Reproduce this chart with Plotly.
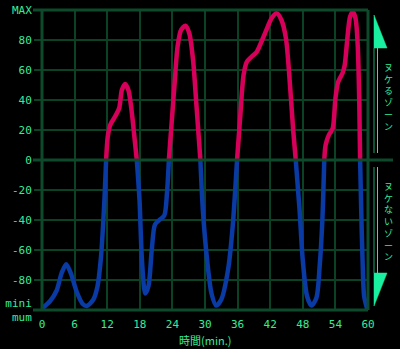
import plotly.graph_objects as go

# ---- data ----
time_min = [0, 1.5, 2.7, 3.6, 4.45, 5.3, 6.4, 7.5, 8.25, 9.45, 10.2, 10.8, 11.4, 11.8,
            12.1, 12.55, 13.45, 14.2, 14.7, 15.3, 15.9, 16.55, 17.0, 17.45,
            17.95, 18.4, 19.0, 19.6, 20.2, 20.8, 21.6, 22.5, 23.0, 23.35,
            23.9, 24.4, 24.95, 25.6, 26.4, 27.1, 27.8, 28.4, 29.15,
            29.6, 30.4, 31.2, 32.05, 33.0, 34.25, 35.1, 35.9,
            36.5, 37.1, 37.7, 38.6, 39.5, 40.4, 41.3, 42.25, 43.2, 44.1, 44.9, 45.6, 46.25, 46.7,
            47.4, 48.0, 48.8, 49.6, 50.5, 51.1, 51.6, 51.95,
            52.2, 52.8, 53.5, 54.0, 54.5, 55.3, 55.7, 56.2, 56.7, 57.2, 57.7, 58.1, 58.4, 58.55,
            58.75, 59.0, 59.3, 59.9]
level = [-99, -94, -87, -75.5, -69.5, -75.5, -88, -96, -97.3, -93, -84.5, -67, -33, 0,
         15.5, 23.3, 29, 34.5, 46.7, 50.7, 46.7, 31, 15.5, 0,
         -27, -67, -89, -84, -60, -43, -40, -37, -22, 0,
         26.7, 51, 75.5, 86.7, 89.5, 84.5, 66.7, 37.8, 0,
         -33, -67, -89, -97, -93, -73, -44, 0,
         30, 56.7, 65.5, 69, 72, 79, 86.7, 94.5, 97.8, 93, 81, 52, 19, 0,
         -33, -67, -91, -97, -92, -71, -40, 0,
         10, 16.7, 21, 41, 52, 57.8, 63, 81, 95.5, 99, 94.5, 77, 37, 0,
         -33, -67, -91, -100]

x_ticks = [0, 6, 12, 18, 24, 30, 36, 42, 48, 54, 60]
y_ticks = [-100, -80, -60, -40, -20, 0, 20, 40, 60, 80, 100]
y_ticktext = ["mini<br>mum", "-80", "-60", "-40", "-20", "0", "20", "40", "60", "80", "MAX"]
x_title = "時間(min.)"
zone_up = "ヌケるゾーン"
zone_down = "ヌケないゾーン"

# ---- styles ----
GRID = "#0b4226"
FRAME = "#0d4a2b"
TXT = "#33ee99"
ARROW = "#19f0a0"
RED = "#d6005a"
BLUE = "#0a3aa3"

pos = [v if v >= 0 else None for v in level]
neg = [v if v <= 0 else None for v in level]

fig = go.Figure()
fig.add_trace(go.Scatter(x=time_min, y=neg, mode="lines",
                         line=dict(color=BLUE, width=4.5, shape="spline", smoothing=0.8),
                         connectgaps=False, hoverinfo="skip"))
fig.add_trace(go.Scatter(x=time_min, y=pos, mode="lines",
                         line=dict(color=RED, width=4.5, shape="spline", smoothing=0.8),
                         connectgaps=False, hoverinfo="skip"))

L, R, T, B = 42, 32, 10, 39
W, H = 400, 349
PW, PH = W - L - R, H - T - B


def px(xp):
    return (xp - L) / PW


def py(yp):
    return (H - B - yp) / PH


shapes = []
# frame lines
for yy in [0, 1]:
    shapes.append(dict(type="line", xref="paper", yref="paper", x0=px(33), x1=1.0,
                       y0=yy, y1=yy, line=dict(color=FRAME, width=3)))
for xx in [0, 1]:
    shapes.append(dict(type="line", xref="paper", yref="paper", x0=xx, x1=xx,
                       y0=0, y1=1, line=dict(color=FRAME, width=3)))
# zero line, extended to the right
shapes.append(dict(type="line", xref="paper", yref="y", x0=px(33), x1=px(393),
                   y0=0, y1=0, line=dict(color=FRAME, width=3)))
# right-side zone arrows
for (a, b) in [(48, 153), (167, 273)]:
    shapes.append(dict(type="line", xref="paper", yref="paper", x0=px(374), x1=px(374),
                       y0=py(a), y1=py(b), line=dict(color="#14a868", width=1)))
    shapes.append(dict(type="line", xref="paper", yref="paper", x0=px(377.5), x1=px(377.5),
                       y0=py(a), y1=py(b), line=dict(color=ARROW, width=1)))
up_path = "M {} {} L {} {} L {} {} Z".format(px(374), py(15), px(387), py(48), px(374), py(48))
down_path = "M {} {} L {} {} L {} {} Z".format(px(374), py(273), px(387), py(273), px(374), py(306))
for p in [up_path, down_path]:
    shapes.append(dict(type="path", xref="paper", yref="paper", path=p,
                       fillcolor=ARROW, line=dict(color=ARROW, width=0.5)))

annotations = [
    dict(text=x_title, xref="paper", yref="paper", x=0.5, y=py(340), showarrow=False,
         xanchor="center", yanchor="middle",
         font=dict(family="Noto Sans CJK JP", size=11, color=TXT)),
    dict(text="<br>".join(list(zone_up)), xref="paper", yref="paper", x=px(388), y=py(97),
         showarrow=False, xanchor="center", yanchor="middle",
         font=dict(family="Noto Sans CJK JP", size=9, color=TXT)),
    dict(text="<br>".join(list(zone_down)), xref="paper", yref="paper", x=px(388), y=py(221),
         showarrow=False, xanchor="center", yanchor="middle",
         font=dict(family="Noto Sans CJK JP", size=9, color=TXT)),
]

fig.update_layout(
    width=W, height=H,
    margin=dict(l=L, r=R, t=T, b=B, pad=0, autoexpand=False),
    paper_bgcolor="#000000", plot_bgcolor="#000000",
    showlegend=False,
    shapes=shapes,
    annotations=annotations,
    font=dict(family="DejaVu Sans Mono", size=10, color=TXT),
)
fig.update_xaxes(range=[0, 60], tickvals=x_ticks, showgrid=True, gridcolor=GRID, gridwidth=2,
                 zeroline=False, showline=False, ticks="", fixedrange=True, automargin=False,
                 ticklabelstandoff=6,
                 tickfont=dict(family="DejaVu Sans Mono", size=11, color=TXT))
fig.update_yaxes(range=[-100, 100], tickvals=y_ticks, ticktext=y_ticktext, showgrid=True,
                 gridcolor=GRID, gridwidth=2, zeroline=False, showline=False, automargin=False,
                 ticks="outside", ticklen=7, tickwidth=2, tickcolor=GRID, fixedrange=True,
                 tickfont=dict(family="DejaVu Sans Mono", size=11, color=TXT))

fig.write_html("out.html")
